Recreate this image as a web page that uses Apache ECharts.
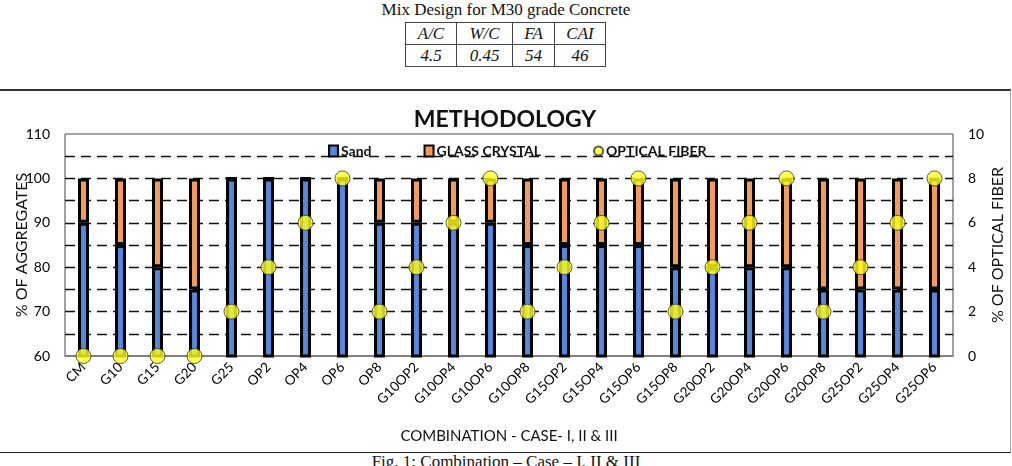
<!DOCTYPE html>
<html>
<head>
<meta charset="utf-8">
<script src="https://cdn.jsdelivr.net/npm/echarts@6/dist/echarts.min.js"></script>
<style>
  body { margin: 0; background: #fff; width: 1012px; height: 466px; overflow: hidden; position: relative; }
  .hd { position: absolute; top: 0; left: 0; width: 1012px; text-align: center; font: 17px "Liberation Serif", serif; color: #111; }
  table.mix { position: absolute; left: 405px; top: 22px; border-collapse: collapse; font: italic 17px "Liberation Serif", serif; color: #111; }
  table.mix td { border: 1px solid #444; height: 21px; padding: 0; text-align: center; line-height: 21px; }
  .frame { position: absolute; left: 0; top: 89px; width: 1010px; height: 361px; border-top: 2px solid #333; border-bottom: 1.5px solid #222; border-right: 1px solid #aaa; }
  #main { position: absolute; left: 0; top: 0; width: 1010px; height: 361px; }
  .cap { position: absolute; top: 452px; left: 0; width: 1012px; text-align: center; font: 17px "Liberation Serif", serif; color: #111; }
</style>
</head>
<body>
<div class="hd">Mix Design for M30 grade Concrete</div>
<table class="mix">
  <tr><td style="width:50px">A/C</td><td style="width:55px">W/C</td><td style="width:41px">FA</td><td style="width:50px">CAI</td></tr>
  <tr><td>4.5</td><td>0.45</td><td>54</td><td>46</td></tr>
</table>
<div class="frame"><div id="main"></div></div>
<div class="cap">Fig. 1: Combination – Case – I, II &amp; III</div>
<script>
var categories = ['CM', 'G10', 'G15', 'G20', 'G25', 'OP2', 'OP4', 'OP6', 'OP8',
  'G10OP2', 'G10OP4', 'G10OP6', 'G10OP8', 'G15OP2', 'G15OP4', 'G15OP6', 'G15OP8',
  'G20OP2', 'G20OP4', 'G20OP6', 'G20OP8', 'G25OP2', 'G25OP4', 'G25OP6'];
// % of aggregates
var sand  = [90, 85, 80, 75, 100, 100, 100, 100, 90, 90, 90, 90, 85, 85, 85, 85, 80, 80, 80, 80, 75, 75, 75, 75];
var glass = [10, 15, 20, 25, 0, 0, 0, 0, 10, 10, 10, 10, 15, 15, 15, 15, 20, 20, 20, 20, 25, 25, 25, 25];
// % of optical fiber (right axis)
var fiber = [0, 0, 0, 0, 2, 4, 6, 8, 2, 4, 6, 8, 2, 4, 6, 8, 2, 4, 6, 8, 2, 4, 6, 8];

var font = 'Lato, "Open Sans", sans-serif';
var myChart = echarts.init(document.getElementById('main'));

var option = {
  animation: false,
  textStyle: { fontFamily: font },
  title: {
    text: 'METHODOLOGY',
    left: 'center',
    top: 12,
    textStyle: { fontSize: 23, fontWeight: 'bold', color: '#111', fontFamily: font }
  },
  legend: {
    left: 323,
    top: 48,
    itemGap: 52,
    itemWidth: 9,
    itemHeight: 11,
    textStyle: { fontSize: 14, fontWeight: 'bold', color: '#111', fontFamily: font, padding: [0, 0, 0, -2] },
    data: [
      { name: 'Sand', icon: 'rect' },
      { name: 'GLASS CRYSTAL', icon: 'rect' },
      { name: 'OPTICAL FIBER', icon: 'circle' }
    ]
  },
  grid: {
    left: 65, right: 57, top: 43, bottom: 96,
    outerBoundsMode: 'none',
    containLabel: false,
    show: true, borderColor: '#444', borderWidth: 1
  },
  xAxis: {
    type: 'category',
    data: categories,
    name: 'COMBINATION - CASE- I, II & III',
    nameLocation: 'middle',
    nameGap: 73,
    nameTextStyle: { fontSize: 15, color: '#111', fontFamily: font },
    axisLine: { lineStyle: { color: '#777', width: 1.5 } },
    axisTick: { show: false },
    axisLabel: { rotate: 45, fontSize: 13.5, color: '#000', margin: 9, interval: 0, fontFamily: font }
  },
  yAxis: [{
    type: 'value',
    min: 60, max: 110, interval: 5,
    name: '% OF AGGREGATES',
    nameLocation: 'middle',
    nameRotate: 90,
    nameGap: 35,
    nameMoveOverlap: false,
    nameTextStyle: { fontSize: 16, color: '#111', fontFamily: font },
    axisLine: { show: false },
    axisTick: { show: false },
    axisLabel: {
      fontSize: 14, color: '#000', margin: 15, fontFamily: font,
      formatter: function (v) { return v % 10 === 0 ? v : ''; }
    },
    splitLine: {
      show: true, showMinLine: false, showMaxLine: false,
      lineStyle: { color: '#111', type: [10, 6], width: 1.3 }
    }
  }, {
    type: 'value',
    min: 0, max: 10, interval: 2,
    name: '% OF OPTICAL FIBER',
    nameLocation: 'middle',
    nameRotate: 90,
    nameGap: 37,
    nameMoveOverlap: false,
    nameTextStyle: { fontSize: 16, color: '#111', fontFamily: font },
    axisLine: { show: false },
    axisTick: { show: false },
    axisLabel: { fontSize: 14, color: '#000', margin: 15, fontFamily: font },
    splitLine: { show: false }
  }],
  series: [{
    name: 'Sand',
    type: 'bar',
    stack: 'agg',
    data: sand,
    barWidth: 11,
    itemStyle: {
      color: new echarts.graphic.LinearGradient(0, 0, 1, 0, [
        { offset: 0, color: '#3d6cc4' },
        { offset: 0.5, color: '#5a8de0' },
        { offset: 1, color: '#3d6cc4' }
      ]),
      borderColor: '#000', borderWidth: 3
    }
  }, {
    name: 'GLASS CRYSTAL',
    type: 'bar',
    stack: 'agg',
    data: glass,
    barWidth: 11,
    itemStyle: { color: '#f59b58', borderColor: '#000', borderWidth: 3 }
  }, {
    name: 'OPTICAL FIBER',
    type: 'scatter',
    yAxisIndex: 1,
    data: fiber,
    symbolSize: 15,
    clip: false,
    z: 5,
    itemStyle: { color: '#ffff1f', borderColor: '#333', borderWidth: 1 }
  }]
};
myChart.setOption(option);
</script>
</body>
</html>
